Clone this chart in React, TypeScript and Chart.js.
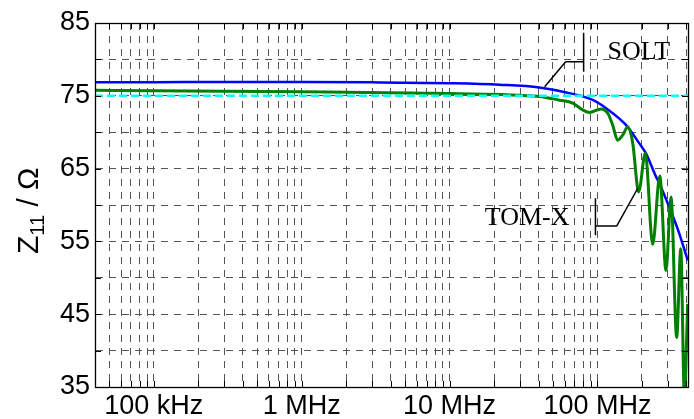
import React, { useEffect, useRef } from 'react';
import { Chart, registerables } from 'chart.js';

Chart.register(...registerables);

// ---- axis ranges ----
const X_MIN = 40e3;
const X_MAX = 410e6;
const Y_MIN = 35;
const Y_MAX = 85;
const Y_STEP = 5;
const REF_LEVEL = 75;

// ---- tick labels ----
const xLabelValues = [1e5, 1e6, 1e7, 1e8];
const xTickLabels = ['100 kHz', '1 MHz', '10 MHz', '100 MHz'];
const yTickLabels = ['35', '45', '55', '65', '75', '85'];
const xDecades = [4, 5, 6, 7, 8];
const xMultipliers = [1, 2, 3, 4, 5, 6, 7, 8, 9];

// ---- series: SOLT (blue) ----
const soltFreqHz = [40e3, 100e3, 1e6, 3e6, 10e6, 21.8e6, 40.5e6, 68.1e6, 92.9e6, 114.5e6, 156e6, 192e6, 213e6, 249e6, 262e6, 306e6, 358e6, 408e6];
const soltZ = [76.85, 76.87, 76.9, 76.85, 76.72, 76.52, 76.15, 75.26, 74.43, 73.3, 71.0, 68.47, 67.1, 63.9, 63.0, 59.74, 56.08, 52.4];

// ---- series: TOM-X (green) ----
const tomxFreqHz = [40e3, 100e3, 1e6, 10e6, 40.5e6, 55.3e6, 68.1e6, 79.6e6, 88.3e6, 105.9e6, 117.5e6, 126.8e6, 137.1e6, 148.3e6, 160.3e6, 173.4e6, 190.1e6, 210.9e6, 236.6e6, 264.2e6, 291.1e6, 314.8e6, 343.6e6, 366.4e6, 387.3e6, 408e6];
const tomxZ = [75.75, 75.7, 75.55, 75.3, 74.9, 74.4, 74.0, 73.06, 72.7, 73.2, 72.6, 71.0, 68.9, 69.6, 70.7, 68.5, 61.8, 67.1, 54.6, 64.0, 51.0, 61.1, 41.8, 54.0, 34.0, 46.4];

// ---- annotations (data coordinates) ----
const soltLabel = { text: 'SOLT', x: 117e6, y: 80.0 };
const soltLeader = [
  [[80.7e6, 83.66], [80.7e6, 78.3]],
  [[80.7e6, 79.67], [61e6, 79.67]],
  [[61e6, 79.67], [44e6, 76.23]],
];
const tomxLabel = { text: 'TOM-X', x: 17.3e6, y: 57.2 };
const tomxLeader = [
  [[97e6, 60.94], [97e6, 55.85]],
  [[97e6, 57.1], [135e6, 57.1]],
  [[135e6, 57.1], [187.6e6, 62.3]],
];

const xGridValues: number[] = [];
xDecades.forEach((e) => {
  xMultipliers.forEach((m) => {
    const v = m * Math.pow(10, e);
    if (v > X_MIN * 1.0001 && v < X_MAX * 0.9999) xGridValues.push(v);
  });
});

const SANS = '"Liberation Sans", Arial, sans-serif';
const SERIF = '"Liberation Serif", "Times New Roman", serif';

const framePlugin = {
  id: 'frameTicks',
  afterDatasetsDraw(chart: any) {
    const { ctx, chartArea: a, scales } = chart;
    const xs = scales.x;
    const ys = scales.y;
    ctx.save();
    ctx.strokeStyle = '#000';
    ctx.lineWidth = 1;
    ctx.beginPath();
    for (const v of xGridValues) {
      const px = Math.round(xs.getPixelForValue(v)) + 0.5;
      ctx.moveTo(px, a.bottom);
      ctx.lineTo(px, a.bottom - 6);
      ctx.moveTo(px, a.top);
      ctx.lineTo(px, a.top + 6);
    }
    for (let v = Y_MIN + Y_STEP; v < Y_MAX; v += Y_STEP) {
      const py = Math.round(ys.getPixelForValue(v)) + 0.5;
      ctx.moveTo(a.left, py);
      ctx.lineTo(a.left + 6, py);
      ctx.moveTo(a.right, py);
      ctx.lineTo(a.right - 6, py);
    }
    ctx.stroke();
    ctx.lineWidth = 1.3;
    ctx.strokeRect(Math.round(a.left) + 0.5, Math.round(a.top) + 0.5, Math.round(a.right - a.left), Math.round(a.bottom - a.top));
    ctx.restore();
  },
  afterDraw(chart: any) {
    const { ctx, scales } = chart;
    const xs = scales.x;
    const ys = scales.y;
    ctx.save();
    // leaders
    ctx.strokeStyle = '#000';
    ctx.lineWidth = 1.5;
    ctx.beginPath();
    [...soltLeader, ...tomxLeader].forEach(([p1, p2]) => {
      ctx.moveTo(xs.getPixelForValue(p1[0]), ys.getPixelForValue(p1[1]));
      ctx.lineTo(xs.getPixelForValue(p2[0]), ys.getPixelForValue(p2[1]));
    });
    ctx.stroke();
    ctx.fillStyle = '#000';
    ctx.font = '26px ' + SERIF;
    ctx.textAlign = 'left';
    ctx.textBaseline = 'alphabetic';
    [soltLabel, tomxLabel].forEach((l) => {
      ctx.fillText(l.text, xs.getPixelForValue(l.x), ys.getPixelForValue(l.y));
    });

    // y-axis title: Z_11 / Ω
    ctx.translate(38, 254);
    ctx.rotate(-Math.PI / 2);
    ctx.textAlign = 'left';
    ctx.textBaseline = 'alphabetic';
    let x = 0;
    ctx.font = '30px ' + SANS;
    ctx.fillText('Z', x, 0);
    x += ctx.measureText('Z').width;
    ctx.font = '20px ' + SANS;
    ctx.fillText('11', x, 6);
    x += ctx.measureText('11').width;
    ctx.font = '30px ' + SANS;
    ctx.fillText(' / Ω', x, 0);
    ctx.restore();
  },
};

export default function App() {
  const canvasRef = useRef<HTMLCanvasElement | null>(null);

  useEffect(() => {
    const canvas = canvasRef.current;
    if (!canvas) return;
    const chart = new Chart(canvas, {
      type: 'line',
      data: {
        datasets: [
          {
            label: '75 Ω',
            data: [
              { x: X_MIN, y: REF_LEVEL },
              { x: X_MAX, y: REF_LEVEL },
            ],
            borderColor: '#00ffff',
            borderWidth: 2.5,
            borderDash: [8, 4],
            pointRadius: 0,
            order: 0,
          },
          {
            label: 'TOM-X',
            data: tomxFreqHz.map((f, i) => ({ x: f, y: tomxZ[i] })),
            borderColor: '#008000',
            borderWidth: 3,
            pointRadius: 0,
            cubicInterpolationMode: 'monotone',
            order: 1,
          },
          {
            label: 'SOLT',
            data: soltFreqHz.map((f, i) => ({ x: f, y: soltZ[i] })),
            borderColor: '#0000ff',
            borderWidth: 2.5,
            pointRadius: 0,
            cubicInterpolationMode: 'monotone',
            order: 2,
          },
        ],
      },
      options: {
        animation: false,
        responsive: false,
        devicePixelRatio: 1,
        layout: { padding: { left: 0, top: 23, right: 6, bottom: 0 } },
        plugins: { legend: { display: false }, tooltip: { enabled: false } },
        scales: {
          x: {
            type: 'logarithmic',
            min: X_MIN,
            max: X_MAX,
            afterBuildTicks: (scale: any) => {
              scale.ticks = xGridValues.map((v) => ({ value: v }));
            },
            afterFit: (scale: any) => {
              scale.height = 32;
            },
            ticks: {
              autoSkip: false,
              maxRotation: 0,
              minRotation: 0,
              padding: 3,
              color: '#000',
              font: { family: SANS, size: 27 },
              callback: (value: any) => {
                const i = xLabelValues.findIndex((v) => Math.abs(v - Number(value)) < v * 1e-6);
                return i >= 0 ? xTickLabels[i] : '';
              },
            },
            grid: { color: '#555', lineWidth: 1, drawTicks: false },
            border: { display: true, color: '#000', width: 1, dash: [7, 6] },
          },
          y: {
            type: 'linear',
            min: Y_MIN,
            max: Y_MAX,
            afterFit: (scale: any) => {
              scale.width = 95;
            },
            ticks: {
              stepSize: Y_STEP,
              padding: 5,
              color: '#000',
              font: { family: SANS, size: 27 },
              callback: (value: any) => (yTickLabels.includes(String(value)) ? String(value) : ''),
            },
            grid: { color: '#555', lineWidth: 1, drawTicks: false },
            border: { display: true, color: '#000', width: 1, dash: [7, 6] },
          },
        },
      },
      plugins: [framePlugin],
    } as any);
    return () => chart.destroy();
  }, []);

  return (
    <canvas
      ref={canvasRef}
      width={694}
      height={419}
      style={{ position: 'absolute', left: 0, top: 0, width: 694, height: 419, background: '#fff' }}
    />
  );
}
